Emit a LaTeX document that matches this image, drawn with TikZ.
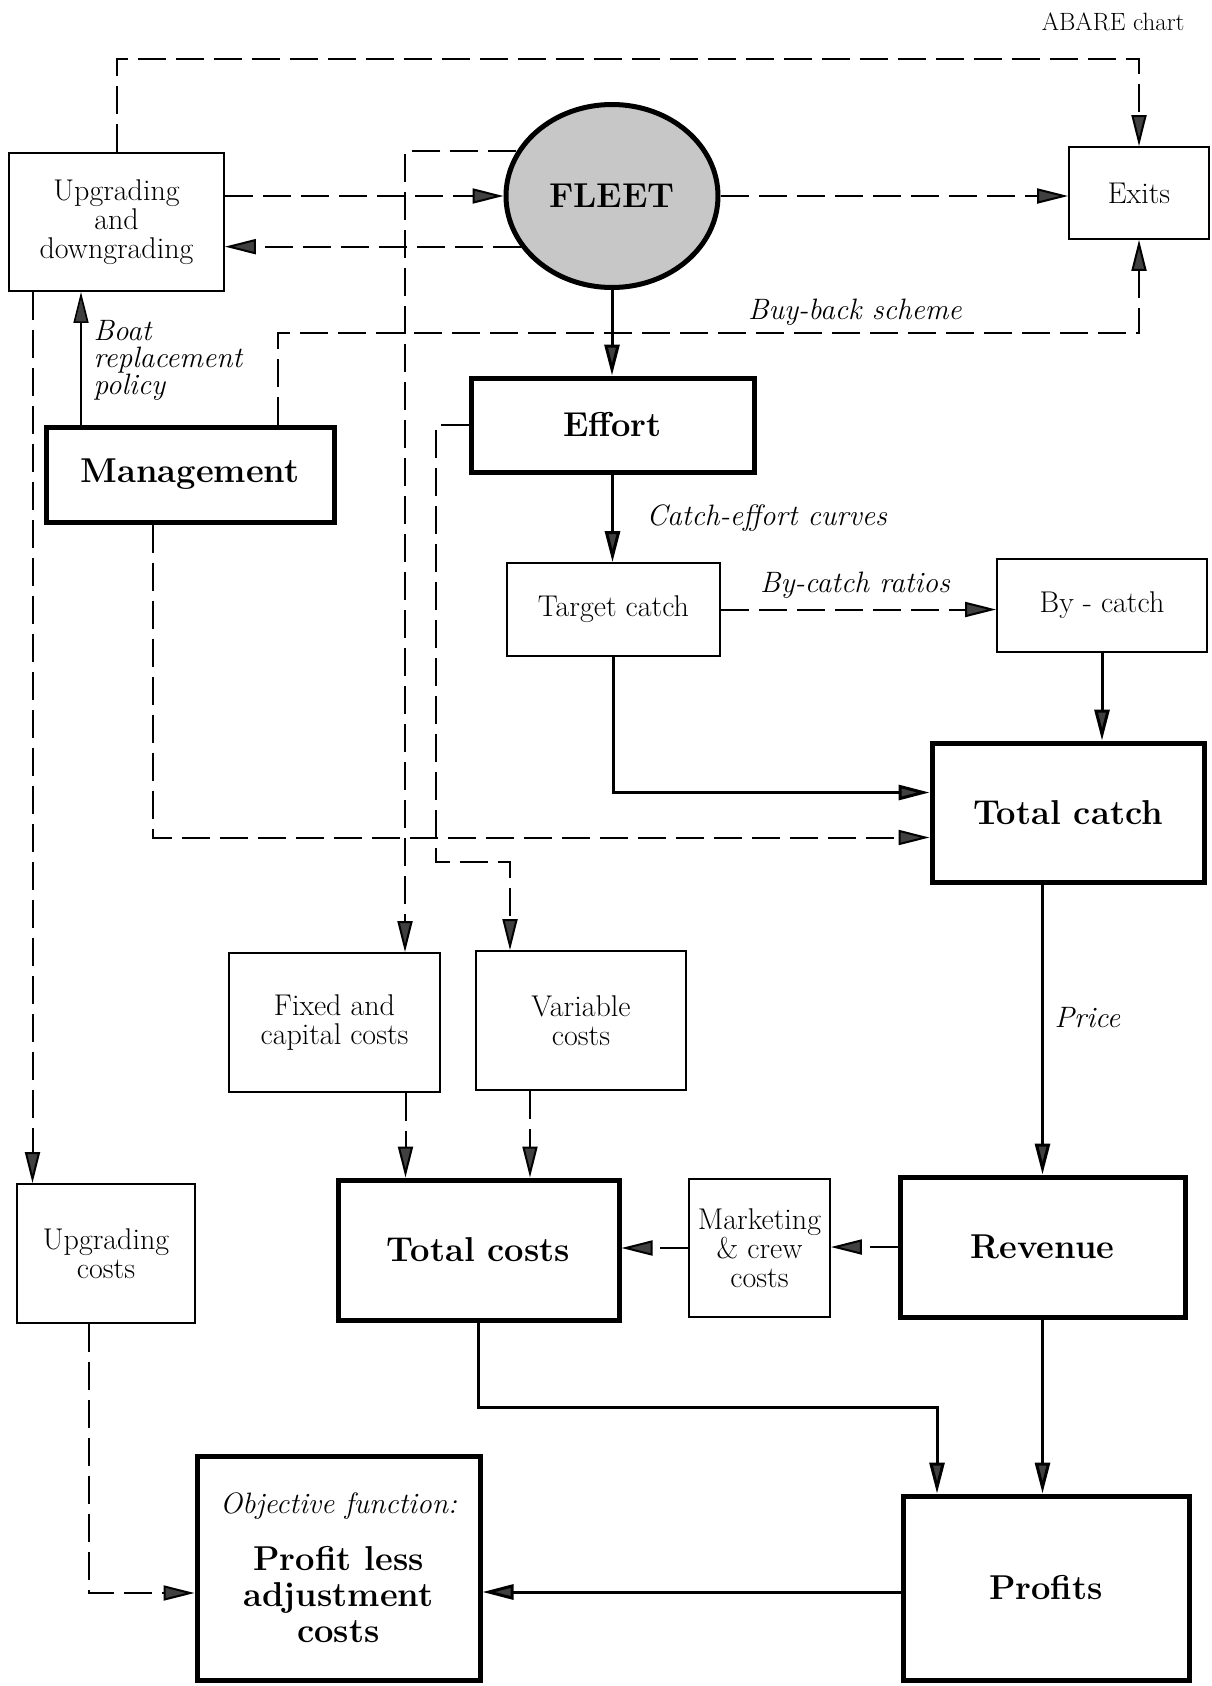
\documentclass[tikz,border=0pt]{standalone}
\usepackage{tikz}
\usetikzlibrary{arrows.meta,positioning,shapes.geometric}

\begin{document}
\begin{tikzpicture}[x=1pt, y=-1pt,
   blk/.style={draw, line width=1.8pt, align=center, inner sep=1pt,
               font=\fontsize{30}{29}\selectfont},
   bigblk/.style={draw, line width=5pt, align=center, inner sep=2pt,
               font=\fontsize{34.5}{36}\selectfont\bfseries},
   lab/.style={font=\fontsize{29.5}{27}\selectfont\itshape},
   tip/.style={-{Triangle[length=31pt,width=15pt,fill=black!75]}},
   sol/.style={tip, line width=3pt},
   dsh/.style={tip, line width=2pt, dash pattern=on 28pt off 10pt}]
  \useasboundingbox (0,0) rectangle (1211,1686);
  \node[font=\fontsize{25}{25}\selectfont, anchor=east] (src) at (1188,22) {ABARE chart};
  % top row
  \node[blk, minimum width=215pt, minimum height=138pt] (upg) at (116.5,222) {Upgrading\\and\\downgrading};
  \node[ellipse, draw, line width=5pt, fill=black!22, inner sep=0pt,
        minimum width=212pt, minimum height=183pt,
        font=\fontsize{34.5}{36}\selectfont\bfseries] (fleet) at (612,196) {FLEET};
  \node[blk, minimum width=140pt, minimum height=92pt] (exits) at (1139,193) {Exits};
  \node[bigblk, minimum width=288pt, minimum height=95pt] (mgmt) at (190,474.5) {Management};
  \node[bigblk, minimum width=283pt, minimum height=94pt] (effort) at (612.5,425) {Effort};
  % catch
  \node[blk, minimum width=213pt, minimum height=93pt] (target) at (613.5,609.5) {Target catch};
  \node[blk, minimum width=210pt, minimum height=93pt] (bycatch) at (1102,605.5) {By - catch};
  \node[bigblk, minimum width=272pt, minimum height=139pt] (totcatch) at (1068,812.5) {Total catch};
  % costs
  \node[blk, minimum width=211pt, minimum height=139pt] (fixed) at (334.5,1022.5) {Fixed and\\capital costs};
  \node[blk, minimum width=210pt, minimum height=139pt] (variable) at (581,1020.5) {Variable\\costs};
  \node[blk, minimum width=178pt, minimum height=139pt] (upgcost) at (106,1253.5) {Upgrading\\costs};
  \node[bigblk, minimum width=281pt, minimum height=140pt] (totcost) at (478.5,1250) {Total costs};
  \node[blk, minimum width=141pt, minimum height=138pt] (mkt) at (759.5,1248) {Marketing\\\& crew\\costs};
  \node[bigblk, minimum width=285pt, minimum height=140pt] (revenue) at (1042.5,1247) {Revenue};
  % bottom
  \node[bigblk, minimum width=283pt, minimum height=224pt] (objective) at (338.5,1568)
       {{\fontsize{29.5}{30}\selectfont\mdseries\itshape Objective function:}\\[21pt]Profit less\\adjustment\\costs};
  \node[bigblk, minimum width=286pt, minimum height=184pt] (profits) at (1046,1588) {Profits};

  % solid links
  \foreach \a/\b in {fleet/effort,effort/target,bycatch/totcatch,revenue/profits}
    {\draw[sol] (\a.south) -- (\a.south |- \b.north);}
  \draw[sol] (revenue.north |- totcatch.south) -- (revenue.north);
  \draw[sol] (target.south) |- ([yshift=20pt]totcatch.west);
  \draw[sol] (totcost.south) -- ++(0,85) -| ([xshift=-109pt]profits.north);
  \draw[sol] ([yshift=-4pt]profits.west) -- ([yshift=-4pt]objective.east |- profits.west);
  \draw[sol, line width=1.6pt] ([xshift=-109pt]mgmt.north) -- ([xshift=-109pt]mgmt.north |- upg.south);

  % dashed links
  \draw[dsh] (upg.north) -- ++(0,-93) -| (exits.north);
  \draw[dsh] (upg.east |- fleet.west) -- (fleet.west);
  \draw[dsh] (fleet.209) -- (upg.east |- fleet.209);
  \draw[dsh] (fleet.east) -- (exits.west |- fleet.east);
  \draw[dsh] (fleet.155) -| ([xshift=70.5pt]fixed.north);
  \draw[dsh] ([xshift=88pt]mgmt.north) -- ++(0,-92) -| (exits.south);
  \draw[dsh] (effort.west) -- ++(-33,0) -- ++(0,437) -| ([xshift=-71pt]variable.north);
  \draw[dsh] ([xshift=-37pt]mgmt.south) |- ([yshift=-25pt]totcatch.west);
  \draw[dsh] (target.east) -- (bycatch.west |- target.east);
  \draw[dsh] ([xshift=-84pt]upg.south) -- ([xshift=-84pt]upg.south |- upgcost.north);
  \draw[dsh] ([xshift=71pt]fixed.south) -- ([xshift=71pt]fixed.south |- totcost.north);
  \draw[dsh] ([xshift=-51pt]variable.south) -- ([xshift=-51pt]variable.south |- totcost.north);
  \draw[dsh] (revenue.west) -- (mkt.east |- revenue.west);
  \draw[dsh] (mkt.west) -- (totcost.east |- mkt.west);
  \draw[dsh] ([xshift=-17pt]upgcost.south) |- ([yshift=-25pt]objective.west);

  % labels
  \node[lab, anchor=west, align=left] (boatlab) at (90,360) {Boat\\replacement\\policy};
  \node[lab] (buyback) at (855,312) {Buy-back scheme};
  \node[lab, anchor=west] (curves) at (643,518) {Catch-effort curves};
  \node[lab] (ratios) at (855,585) {By-catch ratios};
  \node[lab, anchor=west] (price) at (1051,1018) {Price};
\end{tikzpicture}
\end{document}
